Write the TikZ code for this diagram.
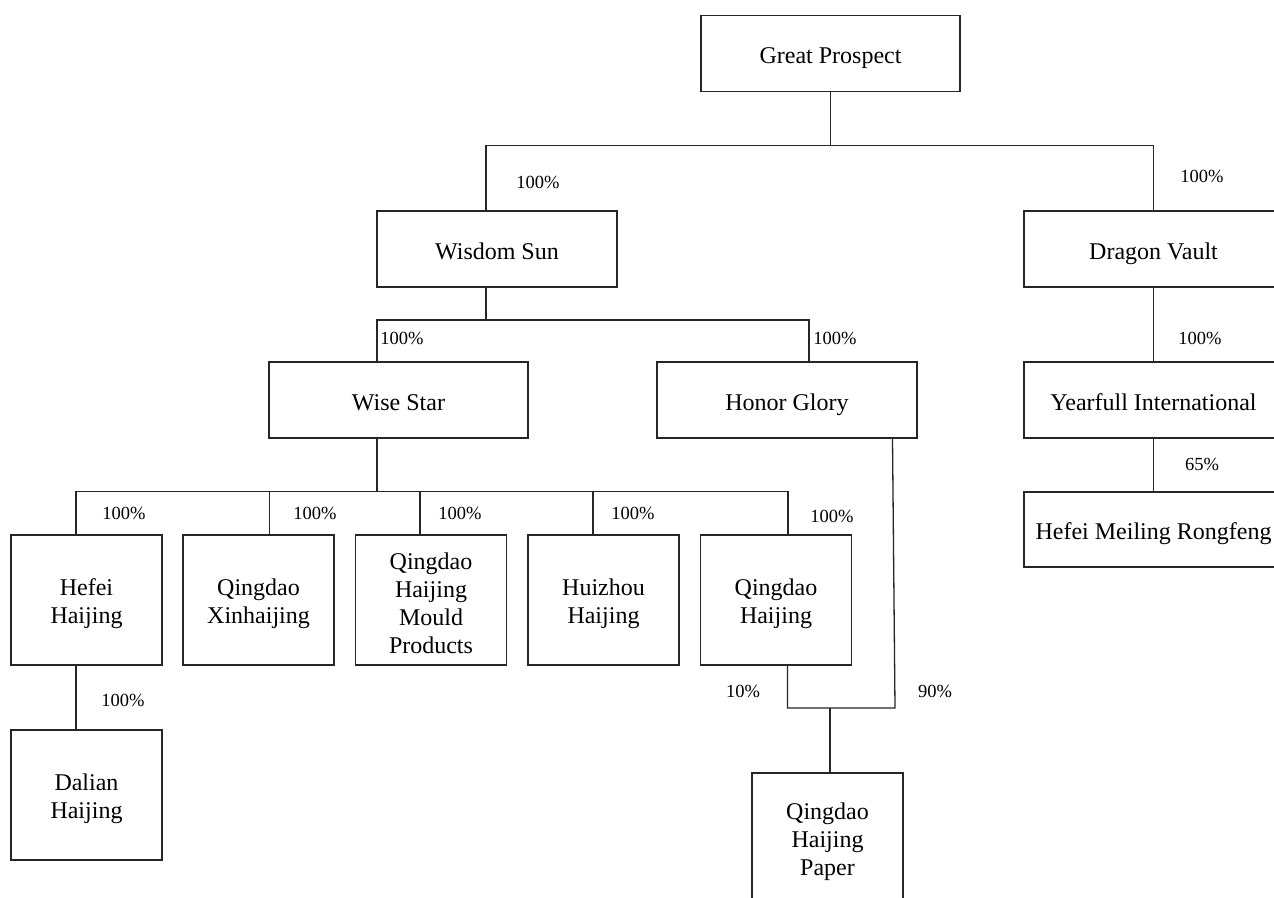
\documentclass[tikz,border=0pt]{standalone}
\usepackage{fontspec}
\setmainfont{Liberation Serif}
\usetikzlibrary{calc}
\newcommand{\tp}{\rule{0pt}{24pt}}
\tikzset{
  box/.style={draw=black!85, line width=1.3pt, rectangle, inner sep=0pt, align=center,
    font=\fontsize{24}{28}\selectfont, text=black},
  one/.style={box, text height=20pt, text depth=0pt},
  wide/.style={one, minimum width=259pt, minimum height=76pt},
  tall/.style={box, minimum width=151pt, minimum height=130pt},
  link/.style={draw=black!85, line width=1.3pt},
  pct/.style={font=\fontsize{18.5}{22}\selectfont, text=black, inner sep=0pt}
}
\begin{document}
\begin{tikzpicture}[x=1pt,y=-1pt]
\useasboundingbox (0,0) rectangle (1274,897);
\fill[white] (0,0) rectangle (1274,897);
\clip (0,0) rectangle (1274,897);
% boxes
\node[wide] (gp) at (830.5,53.5) {Great Prospect};
\node[one, minimum width=240pt, minimum height=76pt] (ws) at (497,249) {Wisdom Sun};
\node[wide] (dv) at (1153.5,249) {Dragon Vault};
\node[wide] (wst) at (398.5,400) {Wise Star};
\node[one, minimum width=260pt, minimum height=76pt] (hg) at (787,400) {Honor Glory};
\node[wide] (yi) at (1153.5,400) {Yearfull International};
\node[one, minimum width=259pt, minimum height=75pt] (hmr) at (1153.5,529.5) {Hefei Meiling Rongfeng};
\node[tall] (hh) at (86.5,600) {\tp Hefei\\Haijing};
\node[tall] (qx) at (258.5,600) {\tp Qingdao\\Xinhaijing};
\node[tall] (qm) at (431,600) {\tp Qingdao\\Haijing\\Mould\\Products};
\node[tall] (hz) at (603.5,600) {\tp Huizhou\\Haijing};
\node[tall] (qh) at (776,600) {\tp Qingdao\\Haijing};
\node[tall] (dh) at (86.5,795) {\tp Dalian\\Haijing};
\node[tall] (qp) at (827.5,838) {\tp Qingdao\\Haijing\\Paper};
% junction coordinates
\coordinate (b1) at (486,145.5);
\coordinate (b2) at (1153.5,145.5);
\coordinate (b3) at (377,320);
\coordinate (b4) at (809,320);
\coordinate (b5) at (76,491.5);
\coordinate (b6) at (788,491.5);
\coordinate (c2) at (269.5,491.5);
\coordinate (c3) at (420,491.5);
\coordinate (c4) at (593,491.5);
\coordinate (b7) at (787.5,708);
\coordinate (b8) at (895,708);
\coordinate (b9) at (830,708);
\coordinate (hgx) at (892.5,0);
% connectors
\draw[link] (gp.south) -- (gp.south |- b1);
\draw[link] (ws.north -| b1) -- (b1) -- (b2) -- (dv.north -| b2);
\draw[link] (ws.south -| b1) -- (b1 |- b3);
\draw[link] (wst.north -| b3) -- (b3) -- (b4) -- (hg.north -| b4);
\draw[link] (dv.south) -- (yi.north);
\draw[link] (yi.south) -- (hmr.north);
\draw[link] (wst.south -| b3) -- (b3 |- b5);
\draw[link] (hh.north -| b5) -- (b5) -- (b6) -- (qh.north -| b6);
\draw[link] (c2) -- (qx.north -| c2);
\draw[link] (c3) -- (qm.north -| c3);
\draw[link] (c4) -- (hz.north -| c4);
\draw[link] (hh.south -| b5) -- (dh.north -| b5);
\draw[link] (qh.south -| b7) -- (b7) -- (b8) -- (hg.south -| hgx);
\draw[link] (b9) -- (qp.north -| b9);
% percentages
\node[pct] (p1) at (538,182) {100\%};
\node[pct] (p2) at (1202,176) {100\%};
\node[pct] (p3) at (402,338) {100\%};
\node[pct] (p4) at (835,338) {100\%};
\node[pct] (p5) at (1200,338) {100\%};
\node[pct] (p6) at (1202,464) {65\%};
\node[pct] (p7) at (124,513) {100\%};
\node[pct] (p8) at (315,513) {100\%};
\node[pct] (p9) at (460,513) {100\%};
\node[pct] (p10) at (633,513) {100\%};
\node[pct] (p11) at (832,516) {100\%};
\node[pct] (p12) at (123,700) {100\%};
\node[pct] (p13) at (743,691) {10\%};
\node[pct] (p14) at (935,691) {90\%};
\end{tikzpicture}
\end{document}
